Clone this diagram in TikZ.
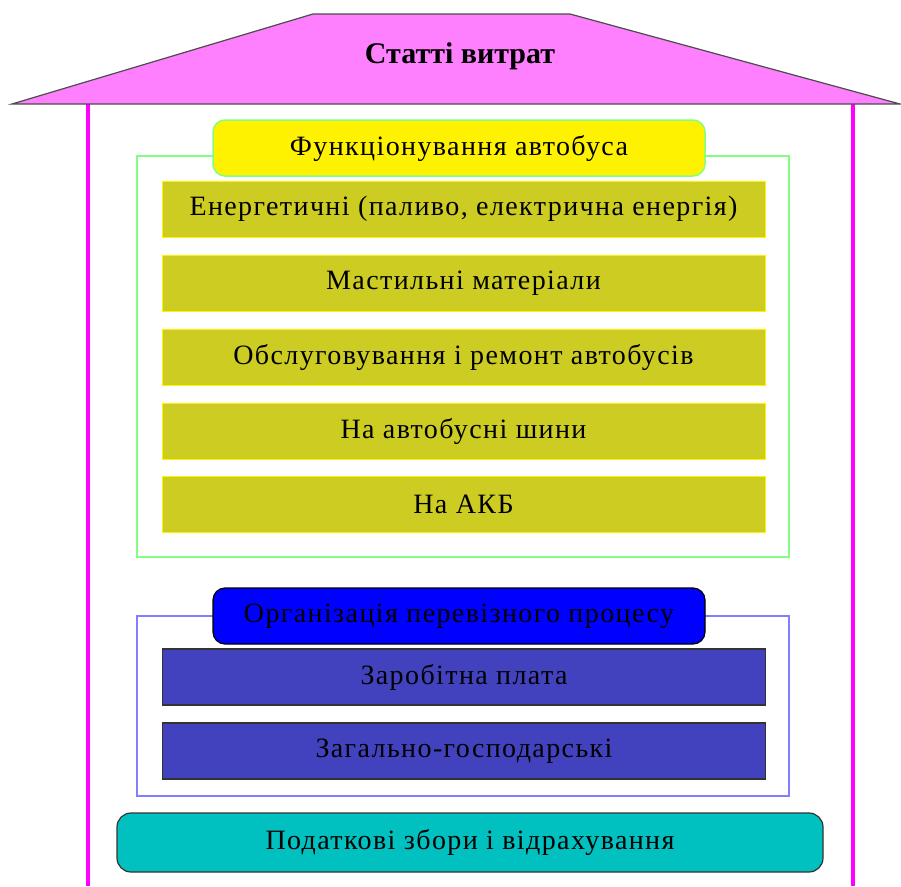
\documentclass[tikz,border=0pt]{standalone}
\usepackage{fontspec}
\setmainfont{Liberation Serif}[LetterSpace=5]
\newfontfamily\titlefont{Liberation Serif}
\definecolor{roofpink}{HTML}{FF80FF}
\definecolor{wallpink}{HTML}{FF00FF}
\definecolor{olivebar}{HTML}{CCCC22}
\definecolor{framegreen}{HTML}{80FF80}
\definecolor{frameblue}{HTML}{8080FF}
\definecolor{bluebar}{HTML}{4242BF}
\definecolor{tealbox}{HTML}{00C0C0}
\begin{document}
\begin{tikzpicture}[x=1pt,y=-1pt,
    every node/.style={font=\fontsize{28}{30}\selectfont,inner sep=0pt},
    headbox/.style={rounded corners=12pt,minimum width=492pt,minimum height=56pt},
    barbox/.style={minimum width=603pt,minimum height=56pt}]
      \useasboundingbox (0,0) rectangle (901,886);
      % roof and walls
      \draw[wallpink,line width=4pt] (88,104) -- (88,886);
      \draw[wallpink,line width=4pt] (853,104) -- (853,886);
      \draw[fill=roofpink,draw=black!70,line width=1.2pt] (12,104) -- (313,14) -- (570,14) -- (900,104) -- cycle;
      \node[font=\titlefont\fontsize{30}{32}\selectfont\bfseries] (title) at (460,56) {Статті витрат};
      % frames
      \draw[framegreen,line width=1.5pt] (137,156) rectangle (789,557);
      \draw[frameblue,line width=1.5pt] (137,616) rectangle (789,796);
      \begin{scope}[every node/.append style={barbox,fill=olivebar,draw=yellow,line width=1pt}]
        \node (fuel) at (463.5,209) {Енергетичні (паливо, електрична енергія)};
        \node (oil) at (463.5,283) {Мастильні матеріали};
        \node (repair) at (463.5,357) {Обслуговування і ремонт автобусів};
        \node (tyres) at (463.5,431) {На автобусні шини};
        \node (akb) at (463.5,504) {На АКБ};
      \end{scope}
      \begin{scope}[every node/.append style={barbox,fill=bluebar,draw=black!80,line width=1.2pt}]
        \node (wage) at (464,677) {Заробітна плата};
        \node (general) at (464,751) {Загально-господарські};
      \end{scope}
      \node[headbox,fill=yellow,draw=framegreen,line width=1.5pt] (func) at (459,148) {Функціонування автобуса};
      \node[headbox,fill=blue,draw=black,line width=1.2pt] (org) at (459,616) {Організація перевізного процесу};
      \node[rounded corners=14pt,minimum width=706pt,minimum height=59pt,fill=tealbox,draw=black!80,line width=1.2pt] (tax) at (470,842.5) {Податкові збори і відрахування};
    \end{tikzpicture}
\end{document}
